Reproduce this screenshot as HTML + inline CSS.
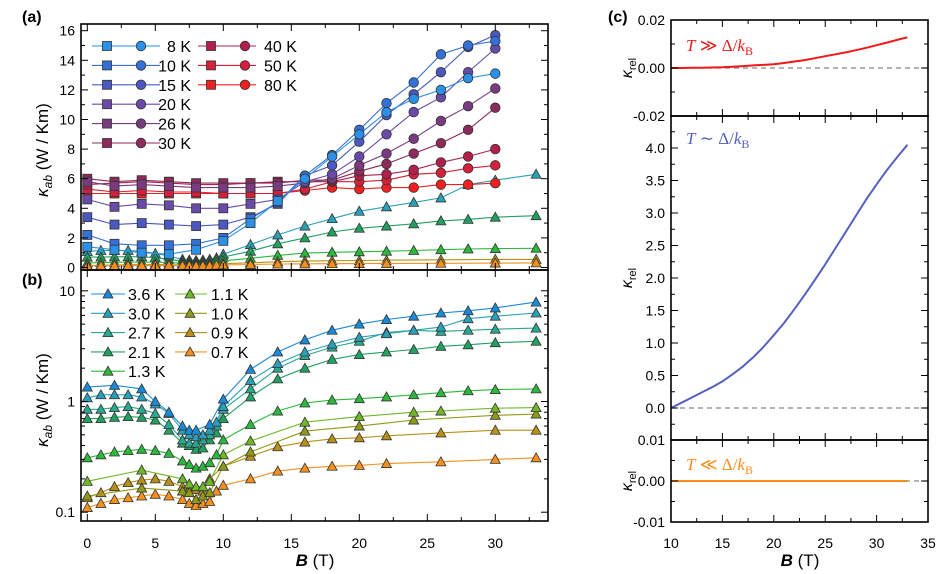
<!DOCTYPE html>
<html><head><meta charset="utf-8">
<style>
html,body{margin:0;padding:0;background:#fff;}
svg{display:block;font-family:"Liberation Sans",sans-serif;}
</style></head>
<body>
<svg id="chart" width="943" height="574" viewBox="0 0 943 574" xmlns="http://www.w3.org/2000/svg">
<defs><clipPath id="clipA"><rect x="81" y="24" width="467" height="246"/></clipPath></defs>
<g id="content"></g>
</svg>
<script>
// ---------- data ----------
const hiB = [0,2,4,6,8,10,12,14,16,18,20,22,24,26,28,30];
const hiLabels = ["8 K","10 K","15 K","20 K","26 K","30 K","40 K","50 K","80 K"];
const k8  = [1.4,1.2,1.0,0.9,1.2,1.8,3.0,4.5,6.0,7.5,9.0,10.5,11.4,12.0,12.8,13.1];
const k10 = [2.2,1.6,1.5,1.5,1.6,2.0,3.3,4.4,6.2,7.6,9.3,11.1,12.5,14.4,15.0,15.3];
const k15 = [3.4,2.9,3.0,2.9,2.8,2.9,3.4,4.3,6.2,6.9,8.5,10.3,11.7,13.2,14.9,15.7];
const k20 = [4.6,4.1,4.3,4.2,4.0,4.0,4.3,4.6,5.8,6.3,7.5,9.0,10.5,11.5,13.2,14.8];
const k26 = [5.8,5.5,5.6,5.5,5.4,5.4,5.4,5.5,5.7,6.0,6.9,7.7,8.7,9.9,10.9,12.1];
const k30 = [6.0,5.8,5.9,5.8,5.7,5.7,5.7,5.7,5.9,5.9,6.5,7.0,7.7,8.4,9.3,10.8];
const k40 = [5.6,5.7,5.8,5.7,5.6,5.6,5.7,5.8,5.8,5.8,6.2,6.3,6.6,7.1,7.5,8.0];
const k50 = [5.3,5.1,5.2,5.1,5.1,5.0,5.0,5.0,5.3,5.8,5.8,5.9,6.3,6.4,6.7,6.9];
const k80 = [5.0,5.0,5.0,5.0,5.0,5.0,5.0,5.0,5.2,5.4,5.3,5.4,5.4,5.6,5.6,5.7];
const hiColors = ["#2a90e8","#3570d8","#4a58c0","#6a4aa8","#7a3a80","#8e2a5a","#b0204a","#d4203a","#f02020"];

const loB = [0,1,2,3,4,5,6,7,7.5,8,8.5,9,9.5,10,12,14,16,18,20,22,24,26,28,30,33];
const loLabels = ["3.6 K","3.0 K","2.7 K","2.1 K","1.3 K","1.1 K","1.0 K","0.9 K","0.7 K"];
const t36 = [1.35,null,1.4,null,1.3,1.0,0.8,0.6,0.55,0.55,null,0.62,null,1.05,1.95,2.8,3.6,4.4,5.0,5.5,5.9,6.3,6.6,7.0,7.9];
const t30 = [1.08,1.15,1.15,1.15,1.1,0.95,0.78,0.55,0.5,0.48,0.5,0.55,0.65,0.9,1.55,2.2,2.8,3.3,3.8,4.1,4.4,4.7,5.6,5.9,6.3];
const t27 = [0.85,0.85,0.88,0.9,0.85,0.78,0.62,0.45,0.42,0.42,0.45,0.5,0.6,0.85,1.3,2.0,2.6,3.1,3.5,4.2,4.4,4.3,4.4,4.5,4.6];
const t21 = [0.7,0.7,0.72,0.73,0.72,0.68,0.55,0.42,0.4,0.37,0.38,0.45,0.52,0.7,1.1,1.6,2.0,2.4,2.65,2.8,2.95,3.15,3.25,3.4,3.5];
const t13 = [0.31,0.33,0.35,0.36,0.37,0.36,0.34,0.29,0.27,0.25,0.26,0.28,0.33,0.45,0.62,0.82,0.97,1.03,1.06,1.1,1.15,1.2,1.25,1.28,1.3];
const t11 = [0.19,null,null,null,0.24,null,null,0.2,0.18,0.17,0.17,0.19,null,0.33,0.44,null,0.65,null,0.73,null,0.8,0.82,null,0.87,0.88];
const t10 = [0.14,null,null,null,0.165,null,null,0.155,0.15,0.13,0.14,0.15,null,0.26,0.35,null,0.54,null,0.6,null,0.68,null,null,0.75,0.77];
const t09 = [0.135,0.15,0.17,0.185,0.195,0.2,0.19,0.17,0.16,0.16,0.155,0.2,null,0.26,0.32,0.39,0.43,0.46,0.47,0.49,null,0.52,null,0.55,0.55];
const t07 = [0.11,0.12,0.13,0.135,0.14,0.145,0.14,0.13,0.12,0.115,0.12,0.125,0.155,0.175,0.2,0.235,0.25,0.26,0.265,0.275,null,0.285,null,0.3,0.31];
const loColors = ["#1a8ad8","#2aa0b8","#2aa890","#22a060","#2cb83c","#70b828","#8f9a18","#b89018","#f5901e"];

const cB = [10,11,12,13,14,15,16,17,18,19,20,21,22,23,24,25,26,27,28,29,30,31,32,33];
const relHigh = [0,0,0.0001,0.0001,0.0002,0.0003,0.0005,0.0008,0.0011,0.0013,0.0016,0.0021,0.0027,0.0033,0.0041,0.0049,0.0057,0.0065,0.0074,0.0084,0.0095,0.0106,0.0117,0.0128];
const relMid  = [0,0.08,0.16,0.24,0.32,0.41,0.52,0.64,0.78,0.94,1.12,1.31,1.52,1.74,1.97,2.21,2.46,2.71,2.96,3.21,3.44,3.66,3.86,4.05];
const relLow  = [0,0,0,0,0,0,0,0,0,0,0,0,0,0,0,0,0,0,0,0,0,0,0,0];

// ---------- helpers ----------
const NS="http://www.w3.org/2000/svg";
const root=document.getElementById('content');
function el(tag,attrs,parent){const e=document.createElementNS(NS,tag);for(const k in attrs)e.setAttribute(k,attrs[k]);(parent||root).appendChild(e);return e;}
function txt(x,y,s,size,anchor,parent,extra){const t=el('text',Object.assign({x:x,y:y,'font-size':size,'text-anchor':anchor||'middle',fill:'#000'},extra||{}),parent);t.textContent=s;return t;}

const xAB=b=>87.3+13.6*b;
const yA=v=>267.5-14.8*v;
const yB=v=>401.5-110.7*Math.log10(v);
const xC=b=>671+10.28*(b-10);
const yC1=v=>68-2400*v;
const yC2=v=>408-65*v;
const yC3=v=>481-4100*v;

function marker(type,x,y,color,parent,name){
  let m;
  if(type==='sq') m=el('rect',{x:x-4.5,y:y-4.5,width:9,height:9,fill:color,stroke:'#333','stroke-width':0.8},parent);
  else if(type==='ci') m=el('circle',{cx:x,cy:y,r:4.8,fill:color,stroke:'#333','stroke-width':0.8},parent);
  else m=el('path',{d:`M${x} ${y-5}L${x+5} ${y+4}L${x-5} ${y+4}Z`,fill:color,stroke:'#333','stroke-width':0.8},parent);
  
  
  return m;
}
function series(xs,ys,xf,yf,color,type,parent,name,typeFn){
  const g=el('g',{},parent);
  
  
  let d='';let first=true;
  xs.forEach((b,i)=>{const v=ys[i];if(v==null)return;d+=(first?'M':'L')+xf(b).toFixed(1)+' '+yf(v).toFixed(1);first=false;});
  el('path',{d:d,fill:'none',stroke:color,'stroke-width':1.1},g);
  xs.forEach((b,i)=>{const v=ys[i];if(v==null)return;marker(typeFn?typeFn(b):type,xf(b),yf(v),color,g,name+'-point');});
}
function frame(x0,y0,x1,y1,name){
  const r=el('rect',{x:x0,y:y0,width:x1-x0,height:y1-y0,fill:'none',stroke:'#000','stroke-width':1.6});
  
  
}
function xTicks(xf,min,max,y0,y1,g,labelY){
  for(let b=min;b<=max+0.01;b+=2.5){const major=Math.abs(b%5)<0.01;const L=major?7:4;const x=xf(b);
    el('line',{x1:x,x2:x,y1:y1,y2:y1-L,stroke:'#000','stroke-width':1},g);
    el('line',{x1:x,x2:x,y1:y0,y2:y0+L,stroke:'#000','stroke-width':1},g);
    if(major&&labelY)txt(x,labelY,String(b),14,'middle',g);}
}
function yTicks(yf,vals,majorFn,x0,x1,g,fmt){
  vals.forEach(v=>{const major=majorFn(v);const L=major?7:4;const y=yf(v);
    el('line',{x1:x0,x2:x0+L,y1:y,y2:y,stroke:'#000','stroke-width':1},g);
    el('line',{x1:x1,x2:x1-L,y1:y,y2:y,stroke:'#000','stroke-width':1},g);
    if(major&&fmt)txt(x0-6,y+5,fmt(v),14,'end',g);});
}

// ---------- panel (a) ----------
const gA=el('g',{});
const plotA=el('g',{'clip-path':'url(#clipA)'},gA);
const aLow=[[t30,1,'kappa-a-3.0K'],[t21,3,'kappa-a-2.1K'],[t13,4,'kappa-a-1.3K'],[t09,7,'kappa-a-0.9K'],[t07,8,'kappa-a-0.7K']];
aLow.forEach(s=>series(loB,s[0],xAB,yA,loColors[s[1]],'tr',plotA,s[2]));
const hiData=[k8,k10,k15,k20,k26,k30,k40,k50,k80];
for(let i=hiData.length-1;i>=0;i--) series(hiB,hiData[i],xAB,yA,hiColors[i],'sq',plotA,'kappa-'+hiLabels[i].replace(' ',''),b=>b<16?'sq':'ci');
frame(81,24,548,270,'panel-a-frame');
xTicks(xAB,0,32.5,24,270,gA,null);
const aTv=[];for(let v=0;v<=16;v++)aTv.push(v);
yTicks(yA,aTv,v=>v%2===0,81,548,gA,v=>String(v));
const yla=txt(0,0,'',17,'middle',gA,{transform:'translate(48,150) rotate(-90)'});

yla.innerHTML='<tspan font-style="italic">κ</tspan><tspan font-size="12" dy="4" font-style="italic">ab</tspan><tspan dy="-4"> (W / Km)</tspan>';
const la=txt(22,22,'(a)',16,'start',gA,{'font-weight':'bold'});
const legA=el('g',{},gA);
hiLabels.forEach((lab,i)=>{
  const col=i<6?0:1,row=i<6?i:i-6;const y=46+row*19.4;
  const lx0=col?198:92,lx1=col?256:160,sq=col?211:107,ci=col?245:141;
  el('line',{x1:lx0,x2:lx1,y1:y,y2:y,stroke:hiColors[i],'stroke-width':1.1},legA);
  marker('sq',sq,y,hiColors[i],legA,'legend-square-'+lab.replace(' ',''));
  marker('ci',ci,y,hiColors[i],legA,'legend-circle-'+lab.replace(' ',''));
  const t=col?txt(264,y+6,lab,16,'start',legA):txt(191,y+6,lab,16,'end',legA);
  
});

// ---------- panel (b) ----------
const gB=el('g',{});
const loData=[t36,t30,t27,t21,t13,t11,t10,t09,t07];
for(let i=loData.length-1;i>=0;i--) series(loB,loData[i],xAB,yB,loColors[i],'tr',gB,'kappa-b-'+loLabels[i].replace(' ',''));
frame(81,270,548,521,'panel-b-frame');
xTicks(xAB,0,32.5,270,521,gB,548);
const bTv=[];[0.1,1].forEach(d=>{for(let k=1;k<10;k++)bTv.push(d*k);});bTv.push(10);
yTicks(yB,bTv,v=>[0.1,1,10].some(m=>Math.abs(v-m)<1e-9),81,548,gB,v=>v<1?'0.1':String(Math.round(v)));
const ylb=txt(0,0,'',17,'middle',gB,{transform:'translate(48,400) rotate(-90)'});

ylb.innerHTML='<tspan font-style="italic">κ</tspan><tspan font-size="12" dy="4" font-style="italic">ab</tspan><tspan dy="-4"> (W / Km)</tspan>';
const xlb=txt(315,566,'',17,'middle',gB);
xlb.innerHTML='<tspan font-style="italic" font-weight="bold">B</tspan> (T)';
const lb=txt(22,285,'(b)',16,'start',gB,{'font-weight':'bold'});
const legB=el('g',{},gB);
loLabels.forEach((lab,i)=>{
  const col=i<5?0:1,row=i<5?i:i-5;const y=294+row*19.3;
  const lx0=col?175:91,lx1=col?207:125,tr=col?190:108;
  el('line',{x1:lx0,x2:lx1,y1:y,y2:y,stroke:loColors[i],'stroke-width':1.1},legB);
  marker('tr',tr,y,loColors[i],legB,'legend-triangle-'+lab.replace(' ',''));
  const t=txt(col?211:128,y+6,lab,16,'start',legB);
  
});

// ---------- panel (c) ----------
const gC=el('g',{});
const midTicks=[];for(let v=-0.25;v<=4.26;v+=0.25)midTicks.push(Math.round(v*100)/100);
const subs=[
 {y0:20,y1:116,yf:yC1,data:relHigh,color:'#f01818',ticks:[-0.02,-0.01,0,0.01,0.02],maj:v=>Math.abs(v*100%2)<1e-6,fmt:v=>v.toFixed(2),lab:'T ≫ Δ/k',ly:51,name:'high'},
 {y0:116,y1:440,yf:yC2,data:relMid,color:'#5560c0',ticks:midTicks,maj:v=>v>=0&&Math.abs((v*2)%1)<1e-6,fmt:v=>v.toFixed(1),lab:'T ∼ Δ/k',ly:144,name:'mid'},
 {y0:440,y1:522,yf:yC3,data:relLow,color:'#ff8c1a',ticks:[-0.01,-0.005,0,0.005,0.01],maj:v=>Math.abs((v*100)%1)<1e-6,fmt:v=>v.toFixed(2),lab:'T ≪ Δ/k',ly:470,name:'low'}
];
subs.forEach(s=>{
  const g=el('g',{},gC);
  const z=el('line',{x1:671,x2:928,y1:s.yf(0),y2:s.yf(0),stroke:'#888','stroke-width':1.2,'stroke-dasharray':'5,4'},g);
  
  let d='';cB.forEach((b,i)=>{d+=(i?'L':'M')+xC(b).toFixed(1)+' '+s.yf(s.data[i]).toFixed(1);});
  const p=el('path',{d:d,fill:'none',stroke:s.color,'stroke-width':2,'stroke-linejoin':'round'},g);
  
  frame(671,s.y0,928,s.y1,'subpanel-frame-'+s.name);
  xTicks(xC,10,35,s.y0,s.y1,g,s.name==='low'?548:null);
  yTicks(s.yf,s.ticks,s.maj,671,928,g,s.fmt);
  const t=txt(686,s.ly,'',17,'start',g,{'font-family':'"Liberation Serif",serif',fill:s.color});
  
  t.innerHTML='<tspan font-style="italic">'+s.lab.slice(0,1)+'</tspan>'+s.lab.slice(1,-1)+'<tspan font-style="italic">k</tspan><tspan font-size="12" dy="4">B</tspan>';
  const yl=txt(0,0,'',16,'middle',g,{transform:`translate(632,${(s.y0+s.y1)/2}) rotate(-90)`});
  
  yl.innerHTML='<tspan font-style="italic">κ</tspan><tspan font-size="11" dy="4">rel</tspan>';
});
const xlc=txt(800,566,'',17,'middle',gC);
xlc.innerHTML='<tspan font-style="italic" font-weight="bold">B</tspan> (T)';
const lc=txt(608,22,'(c)',16,'start',gC,{'font-weight':'bold'});
</script>
</body></html>
